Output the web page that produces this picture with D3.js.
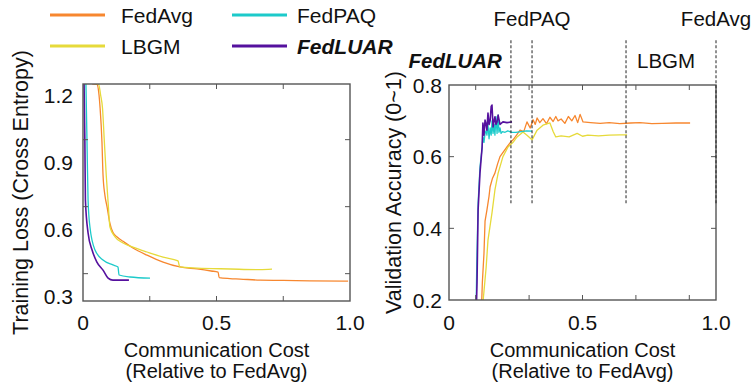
<!DOCTYPE html>
<html>
<head>
<meta charset="utf-8">
<script src="https://cdn.jsdelivr.net/npm/d3@7"></script>
<style>
  body { margin: 0; background: #fff; }
  svg text { font-family: Arial, "Liberation Sans", sans-serif; fill: #111; }
</style>
</head>
<body>
<div id="layout"></div>
<script>
// ---- data ----
var methods = ["FedAvg", "LBGM", "FedPAQ", "FedLUAR"];
var colors = { FedAvg: "#f7872f", LBGM: "#e6da3a", FedPAQ: "#1ccaca", FedLUAR: "#55119e" };

// training loss vs communication cost
var lossAvgX = [0.034, 0.052, 0.060, 0.064, 0.071, 0.075, 0.082, 0.090, 0.100, 0.112, 0.130, 0.150, 0.187, 0.240, 0.300, 0.363, 0.427, 0.480, 0.506, 0.510, 0.550, 0.588, 0.663, 0.750, 0.850, 0.993];
var lossAvgY = [1.250, 1.248, 1.200, 1.142, 0.990, 0.842, 0.752, 0.700, 0.630, 0.585, 0.562, 0.545, 0.515, 0.483, 0.452, 0.430, 0.421, 0.412, 0.407, 0.382, 0.378, 0.376, 0.371, 0.370, 0.368, 0.367];
var lossLbgmX = [0.045, 0.058, 0.066, 0.073, 0.080, 0.087, 0.094, 0.101, 0.120, 0.150, 0.187, 0.240, 0.300, 0.356, 0.362, 0.427, 0.551, 0.663, 0.708];
var lossLbgmY = [1.250, 1.250, 1.200, 1.142, 0.990, 0.842, 0.720, 0.609, 0.565, 0.537, 0.519, 0.497, 0.474, 0.457, 0.430, 0.425, 0.421, 0.418, 0.420];
var lossPaqX = [0.011, 0.015, 0.019, 0.026, 0.045, 0.075, 0.112, 0.131, 0.135, 0.176, 0.251];
var lossPaqY = [1.250, 0.990, 0.730, 0.609, 0.506, 0.461, 0.439, 0.430, 0.394, 0.385, 0.380];
var lossLuarX = [0.004, 0.007, 0.009, 0.019, 0.034, 0.052, 0.075, 0.094, 0.112, 0.172];
var lossLuarY = [1.250, 0.990, 0.730, 0.582, 0.506, 0.452, 0.416, 0.380, 0.371, 0.371];

// validation accuracy vs communication cost
var accAvgX = [0.118, 0.125, 0.131, 0.135, 0.142, 0.150, 0.154, 0.163, 0.172, 0.182, 0.191, 0.205, 0.217, 0.230, 0.240, 0.253, 0.266, 0.280, 0.292, 0.304, 0.315, 0.323, 0.330, 0.340, 0.352, 0.365, 0.378, 0.390, 0.400, 0.408, 0.420, 0.434, 0.447, 0.460, 0.472, 0.482, 0.491, 0.502, 0.530, 0.566, 0.600, 0.640, 0.680, 0.715, 0.760, 0.800, 0.850, 0.903];
var accAvgY = [0.10, 0.25, 0.33, 0.42, 0.451, 0.49, 0.516, 0.54, 0.554, 0.58, 0.60, 0.615, 0.627, 0.64, 0.647, 0.66, 0.674, 0.670, 0.697, 0.680, 0.703, 0.690, 0.708, 0.695, 0.706, 0.692, 0.710, 0.698, 0.712, 0.700, 0.705, 0.693, 0.712, 0.700, 0.715, 0.695, 0.718, 0.697, 0.695, 0.693, 0.695, 0.692, 0.694, 0.695, 0.692, 0.693, 0.694, 0.694];
var accLbgmX = [0.122, 0.128, 0.139, 0.146, 0.161, 0.172, 0.184, 0.202, 0.221, 0.240, 0.255, 0.277, 0.292, 0.311, 0.330, 0.352, 0.378, 0.390, 0.400, 0.420, 0.450, 0.480, 0.500, 0.520, 0.560, 0.600, 0.640, 0.667];
var accLbgmY = [0.10, 0.20, 0.29, 0.367, 0.443, 0.507, 0.554, 0.600, 0.627, 0.640, 0.655, 0.669, 0.660, 0.647, 0.674, 0.688, 0.694, 0.670, 0.655, 0.658, 0.655, 0.665, 0.657, 0.660, 0.658, 0.660, 0.661, 0.661];
var accPaqX = [0.100, 0.104, 0.109, 0.116, 0.124, 0.127, 0.131, 0.135, 0.139, 0.142, 0.146, 0.150, 0.154, 0.158, 0.161, 0.165, 0.169, 0.172, 0.176, 0.180, 0.184, 0.187, 0.191, 0.195, 0.200, 0.210, 0.220, 0.236, 0.250, 0.270, 0.290, 0.311];
var accPaqY = [0.10, 0.30, 0.470, 0.571, 0.624, 0.655, 0.640, 0.665, 0.672, 0.660, 0.690, 0.650, 0.680, 0.660, 0.700, 0.665, 0.690, 0.660, 0.712, 0.665, 0.716, 0.668, 0.680, 0.665, 0.670, 0.668, 0.672, 0.668, 0.668, 0.670, 0.672, 0.671];
var accLuarX = [0.100, 0.105, 0.109, 0.116, 0.124, 0.127, 0.131, 0.135, 0.139, 0.142, 0.146, 0.150, 0.154, 0.158, 0.161, 0.165, 0.169, 0.172, 0.176, 0.180, 0.184, 0.191, 0.202, 0.217, 0.236];
var accLuarY = [0.10, 0.25, 0.451, 0.554, 0.627, 0.694, 0.660, 0.702, 0.690, 0.674, 0.722, 0.690, 0.700, 0.740, 0.744, 0.683, 0.700, 0.711, 0.690, 0.697, 0.716, 0.690, 0.697, 0.695, 0.697];

// final-cost markers on the accuracy plot
var markerNames = ["FedLUAR", "FedPAQ", "LBGM", "FedAvg"];
var markerCost = [0.232, 0.311, 0.663, 1.0];
var markerRange = [0.47, 0.925];

// tick values and labels
var lossTickLabels = [1.2, 0.9, 0.6, 0.3];
var lossTickMarks = [1.0, 0.7, 0.4];
var accTickLabels = [0.8, 0.6, 0.4, 0.2];
var costTickLabels = [0, 0.5, 1.0];
var lossCostMarks = [0.25, 0.5, 0.75];
var accCostMarks = [0.1, 0.3, 0.5, 0.7, 0.9];

var zip = (xs, ys) => xs.map((x, i) => [x, ys[i]]);

var lossSeries = {
  FedAvg: zip(lossAvgX, lossAvgY), LBGM: zip(lossLbgmX, lossLbgmY),
  FedPAQ: zip(lossPaqX, lossPaqY), FedLUAR: zip(lossLuarX, lossLuarY)
};
var accSeries = {
  FedAvg: zip(accAvgX, accAvgY), LBGM: zip(accLbgmX, accLbgmY),
  FedPAQ: zip(accPaqX, accPaqY), FedLUAR: zip(accLuarX, accLuarY)
};

var outerWidth = 751, outerHeight = 390;

var svg = d3.select("#layout")
            .append("svg")
            .attr("width", outerWidth)
            .attr("height", outerHeight);

var fmt = (d) => d === 0 ? "0" : d3.format(".1f")(d);

drawPanel = (opt) => {
  var x = opt.x, y = opt.y, f = opt.frame;
  var g = svg.append("g");

  g.append("clipPath").attr("id", opt.id + "-clip")
   .append("rect")
   .attr("x", f.x0).attr("y", f.y0)
   .attr("width", f.x1 - f.x0).attr("height", f.y1 - f.y0);

  // curves
  var line = d3.line().curve(opt.curve).x(d => x(d[0])).y(d => y(d[1]));
  var plot = g.append("g").attr("clip-path", "url(#" + opt.id + "-clip)");
  methods.forEach(m => {
    plot.append("path")
        .datum(opt.series[m])
        .attr("fill", "none")
        .attr("stroke", colors[m])
        .attr("stroke-width", m === "FedLUAR" ? 1.6 : 1.3)
        .attr("stroke-linejoin", "round")
        .attr("d", line);
  });

  // tick marks (inward, on all four sides)
  var tk = 5;
  var marks = g.append("g").attr("stroke", "#555").attr("stroke-width", 1);
  opt.xMarks.forEach(v => {
    marks.append("line").attr("x1", x(v)).attr("x2", x(v)).attr("y1", f.y1).attr("y2", f.y1 - tk);
    marks.append("line").attr("x1", x(v)).attr("x2", x(v)).attr("y1", f.y0).attr("y2", f.y0 + tk);
  });
  opt.yMarks.forEach(v => {
    marks.append("line").attr("x1", f.x0).attr("x2", f.x0 + tk).attr("y1", y(v)).attr("y2", y(v));
    marks.append("line").attr("x1", f.x1).attr("x2", f.x1 - tk).attr("y1", y(v)).attr("y2", y(v));
  });

  // frame
  g.append("rect")
   .attr("x", f.x0).attr("y", f.y0)
   .attr("width", f.x1 - f.x0).attr("height", f.y1 - f.y0)
   .attr("fill", "none")
   .attr("stroke", "#555")
   .attr("stroke-width", 1.4);

  // tick labels
  g.selectAll(".xl")
   .data(costTickLabels)
   .enter()
   .append("text")
   .attr("x", d => x(d))
   .attr("y", 330)
   .attr("text-anchor", "middle")
   .style("font-size", "21px")
   .text(fmt);

  g.selectAll(".yl")
   .data(opt.yLabels)
   .enter()
   .append("text")
   .attr("x", opt.yLabelX)
   .attr("y", d => y(d))
   .attr("dy", "0.36em")
   .attr("text-anchor", "end")
   .style("font-size", "21px")
   .text(d => d3.format(".1f")(d));

  // axis titles
  var cx = (f.x0 + f.x1) / 2;
  g.append("text").attr("x", cx).attr("y", 357).attr("text-anchor", "middle")
   .style("font-size", "20px").text("Communication Cost");
  g.append("text").attr("x", cx).attr("y", 378).attr("text-anchor", "middle")
   .style("font-size", "20px").text("(Relative to FedAvg)");

  g.append("text")
   .attr("transform", "translate(" + opt.yTitleX + "," + ((f.y0 + f.y1) / 2) + ") rotate(-90)")
   .attr("text-anchor", "middle")
   .attr("dy", "0.35em")
   .style("font-size", "21.5px")
   .text(opt.yTitle);

  return g;
}

// left panel: training loss
var xLoss = d3.scaleLinear().domain([0, 1]).range([83, 350]);
var yLoss = d3.scaleLinear().domain([0.3, 1.2]).range([296, 95]);
drawPanel({
  id: "loss", x: xLoss, y: yLoss, series: lossSeries, curve: d3.curveMonotoneX,
  frame: { x0: 83, x1: 350, y0: 84, y1: 301 },
  xMarks: lossCostMarks, yMarks: lossTickMarks, yLabels: lossTickLabels,
  yLabelX: 73, yTitleX: 20, yTitle: "Training Loss (Cross Entropy)"
});

// right panel: validation accuracy
var xAcc = d3.scaleLinear().domain([0, 1]).range([449, 716]);
var yAcc = d3.scaleLinear().domain([0.2, 0.8]).range([300, 85]);
var accPanel = drawPanel({
  id: "acc", x: xAcc, y: yAcc, series: accSeries, curve: d3.curveLinear,
  frame: { x0: 449, x1: 716, y0: 85, y1: 300 },
  xMarks: accCostMarks, yMarks: [0.4, 0.6], yLabels: accTickLabels,
  yLabelX: 442, yTitleX: 393, yTitle: "Validation Accuracy (0~1)"
});

// dashed cost markers and their names
accPanel.selectAll(".marker")
  .data(markerCost)
  .enter()
  .append("line")
  .attr("x1", d => xAcc(d)).attr("x2", d => xAcc(d))
  .attr("y1", yAcc(markerRange[0])).attr("y2", yAcc(markerRange[1]))
  .attr("stroke", "#222")
  .attr("stroke-width", 1)
  .attr("stroke-dasharray", "3,2");

var markerLabel = [
  { anchor: "end", dx: -9, y: 68 },
  { anchor: "middle", dx: 0, y: 26 },
  { anchor: "start", dx: 11, y: 68 },
  { anchor: "middle", dx: 0, y: 26 }
];
markerNames.forEach((name, i) => {
  var t = accPanel.append("text")
    .attr("x", xAcc(markerCost[i]) + markerLabel[i].dx)
    .attr("y", markerLabel[i].y)
    .attr("text-anchor", markerLabel[i].anchor)
    .style("font-size", "20.5px")
    .text(name);
  if (name === "FedLUAR") t.style("font-weight", "bold").style("font-style", "italic");
});

// legend
var legendCols = [50, 232], legendRows = [15, 46], legendGap = [16, 10];
var legendOrder = ["FedAvg", "FedPAQ", "LBGM", "FedLUAR"];
var legend = svg.append("g").attr("id", "legend");
legendOrder.forEach((m, i) => {
  var c = i % 2, r = Math.floor(i / 2);
  var lx = legendCols[c], ly = legendRows[r];
  legend.append("line")
        .attr("x1", lx).attr("x2", lx + 55)
        .attr("y1", ly).attr("y2", ly)
        .attr("stroke", colors[m])
        .attr("stroke-width", 3);
  var t = legend.append("text")
        .attr("x", lx + 55 + legendGap[c])
        .attr("y", ly)
        .attr("dy", "0.36em")
        .style("font-size", "21px")
        .text(m);
  if (m === "FedLUAR") t.style("font-weight", "bold").style("font-style", "italic");
});
</script>
</body>
</html>
